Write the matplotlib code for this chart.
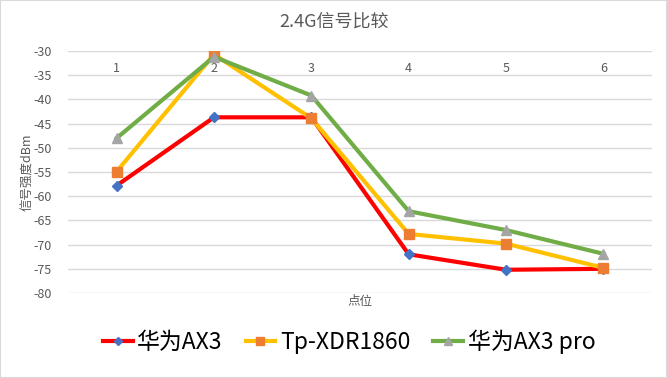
import matplotlib.pyplot as plt
from matplotlib.patches import Rectangle

plt.rcParams['font.family'] = ['Noto Sans CJK SC', 'DejaVu Sans']

# 数据
pontos = [1, 2, 3, 4, 5, 6]
huawei_ax3 = [-57.8, -43.7, -43.7, -72.0, -75.2, -75.0]
tp_xdr1860 = [-54.9, -30.7, -43.9, -67.8, -69.8, -74.8]
huawei_ax3_pro = [-48.0, -31.2, -39.2, -63.1, -67.0, -71.9]
nomes = ['华为AX3', 'Tp-XDR1860', '华为AX3 pro']
yticks = [-30, -35, -40, -45, -50, -55, -60, -65, -70, -75, -80]

cinza = '#595959'

fig = plt.figure(figsize=(6.67, 3.78), dpi=100)
ax = fig.add_axes([68 / 667, 1 - 293 / 378, (652 - 68) / 667, (293 - 51) / 378])

ax.plot(pontos, huawei_ax3, color='#FF0000', lw=3, marker='D', ms=5,
        mfc='#4472C4', mec='#4472C4', label=nomes[0], zorder=3)
ax.plot(pontos, tp_xdr1860, color='#FFC000', lw=3, marker='s', ms=7.5,
        mfc='#ED7D31', mec='#ED7D31', label=nomes[1], zorder=3)
ax.plot(pontos, huawei_ax3_pro, color='#70AD47', lw=3, marker='^', ms=7.5,
        mfc='#A5A5A5', mec='#A5A5A5', label=nomes[2], zorder=3)

ax.set_xlim(0.5, 6.5)
ax.set_ylim(-80, -30)
ax.set_yticks(yticks)
ax.set_yticklabels([str(v) for v in yticks])
ax.set_xticks(pontos)
ax.set_xticklabels([str(p) for p in pontos])

ax.grid(axis='y', color='#D9D9D9', lw=1)
ax.set_axisbelow(True)
for s in ax.spines.values():
    s.set_visible(False)

ax.tick_params(axis='y', length=0, pad=12, labelsize=9, labelcolor=cinza)
ax.tick_params(axis='x', length=0, top=True, bottom=False, labeltop=True,
               labelbottom=False, pad=-17, labelsize=9, labelcolor=cinza)

ax.set_ylabel('信号强度dBm', fontsize=9, color=cinza, labelpad=-1)
fig.text(360 / 667, 1 - 302 / 378, '点位', fontsize=9, color=cinza,
         ha='center', va='center')
fig.text(334 / 667, 1 - 22 / 378, '2.4G信号比较', fontsize=13, color=cinza,
         ha='center', va='center')

fig.legend(loc='center', bbox_to_anchor=(349 / 667, 1 - 342 / 378), ncol=3,
           frameon=False, fontsize=16.5, handlelength=1.3, handletextpad=0.2,
           columnspacing=1.0, markerscale=0.75)

fig.patches.append(Rectangle((0, 0), 1, 1, transform=fig.transFigure,
                             fill=False, ec='#D9D9D9', lw=1.5))

fig.savefig('out.png', dpi=100)
